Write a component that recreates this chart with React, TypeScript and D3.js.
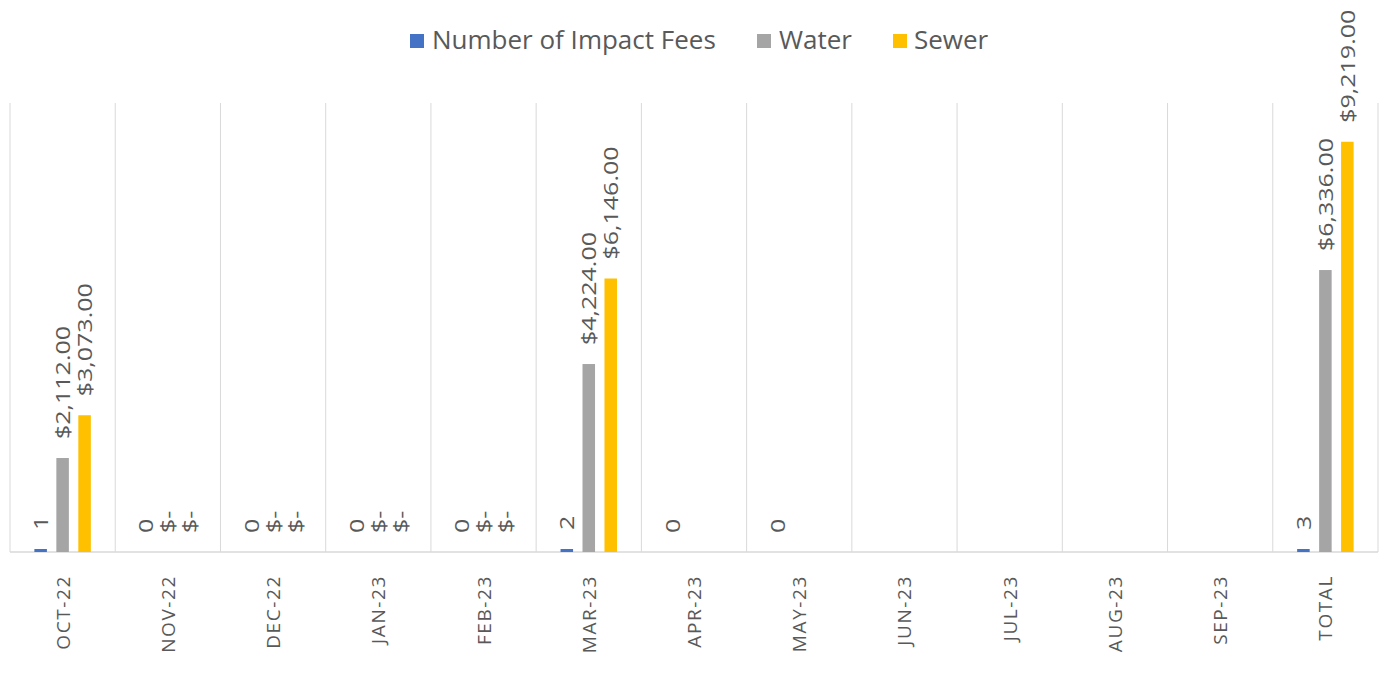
import React from "react";
import * as d3 from "d3";

const categories = ["OCT-22","NOV-22","DEC-22","JAN-23","FEB-23","MAR-23","APR-23","MAY-23","JUN-23","JUL-23","AUG-23","SEP-23","TOTAL"];
const impactFees: (number | null)[] = [1,0,0,0,0,2,0,0,null,null,null,null,3];
const water: (number | null)[] = [2112,0,0,0,0,4224,null,null,null,null,null,null,6336];
const sewer: (number | null)[] = [3073,0,0,0,0,6146,null,null,null,null,null,null,9219];
const seriesNames = ["Number of Impact Fees","Water","Sewer"];
const seriesColors = ["#4472C4","#A5A5A5","#FFC000"];

const W = 1389, H = 687;
const FONT = "'Open Sans', sans-serif";
const TXT = "#595959";

function fmt(v: number, i: number) {
  if (i === 0) return String(v);
  if (v === 0) return "$-";
  return "$" + d3.format(",.2f")(v);
}

export default function App() {
  const left = 10, right = 1378, top = 103, base = 552;
  const x0 = d3.scaleBand<string>().domain(categories).range([left, right]).padding(0);
  const x1 = d3.scaleBand<number>().domain([0,1,2]).range([0, x0.bandwidth()]).paddingInner(0.43).paddingOuter(1.11);
  const y = d3.scaleLinear().domain([0, 10000]).range([base, 107]);
  const data = [impactFees, water, sewer];

  const gridXs = categories.map(c => x0(c)!).concat([right]);

  return (
    <svg width={W} height={H} style={{ position: "absolute", left: 0, top: 0, background: "#fff" }} fontFamily={FONT}>
      <rect x={0} y={0} width={W} height={H} fill="#fff" />
      {gridXs.map((gx, i) => (
        <line key={"g"+i} x1={gx} x2={gx} y1={top} y2={base} stroke="#D9D9D9" strokeWidth={1} />
      ))}
      <line x1={left} x2={right} y1={base} y2={base} stroke="#D9D9D9" strokeWidth={1.5} />
      {categories.map((c, ci) => (
        <g key={c}>
          {data.map((arr, si) => {
            const v = arr[ci];
            if (v === null || v === undefined) return null;
            const bx = x0(c)! + x1(si)!;
            const bw = x1.bandwidth();
            let h = base - y(v);
            if (v > 0 && h < 3) h = 3;
            const cx = bx + bw / 2;
            const ty = base - h - 19;
            return (
              <g key={si}>
                {v > 0 && <rect x={bx} y={base - h} width={bw} height={h} fill={seriesColors[si]} />}
                <text transform={`translate(${cx},${ty}) rotate(-90) scale(1.25,1)`} fill={TXT} fontSize={20} dominantBaseline="central" textAnchor="start">{fmt(v, si)}</text>
              </g>
            );
          })}
          <text transform={`translate(${x0(c)! + x0.bandwidth() / 2},${575}) rotate(-90)`} fill={TXT} fontSize={19} letterSpacing={1.6} dominantBaseline="central" textAnchor="end">{c}</text>
        </g>
      ))}
      {(() => {
        const items = [{ x: 410, tx: 432 }, { x: 757, tx: 779 }, { x: 893, tx: 914 }];
        return seriesNames.map((n, i) => (
          <g key={n}>
            <rect x={items[i].x} y={34} width={14} height={14} fill={seriesColors[i]} />
            <text x={items[i].tx} y={49} fill={TXT} fontSize={26}>{n}</text>
          </g>
        ));
      })()}
    </svg>
  );
}
